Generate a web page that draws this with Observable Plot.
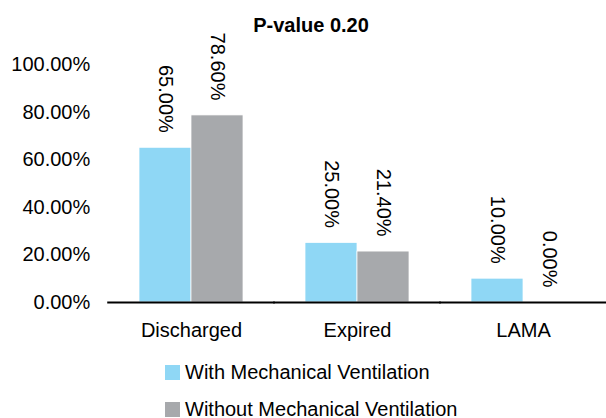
<!DOCTYPE html>
<html>
<head>
<meta charset="utf-8">
<script src="https://cdn.jsdelivr.net/npm/d3@7"></script>
<script src="https://cdn.jsdelivr.net/npm/@observablehq/plot@0.6"></script>
<style>
  html, body { margin: 0; padding: 0; background: #fff; }
  #wrap { position: relative; width: 606px; height: 418px; overflow: hidden; font-family: "Liberation Sans", Arial, sans-serif; color: #000; }
  #title { position: absolute; top: 15px; left: 311px; transform: translateX(-50%); font-size: 20px; line-height: 20px; font-weight: bold; white-space: nowrap; }
  #chart { position: absolute; left: 0; top: 0; }
  .leg { position: absolute; left: 165px; font-size: 20px; line-height: 16px; height: 16px; white-space: nowrap; display: flex; align-items: center; }
  .leg .sw { width: 15px; height: 15px; margin-right: 5px; flex: none; }
</style>
</head>
<body>
<div id="wrap">
  <div id="chart"></div>
  <div id="title">P-value 0.20</div>
  <div id="legend"></div>
</div>
<script>
const title = "P-value 0.20";
const categories = ["Discharged", "Expired", "LAMA"];
const series = ["With Mechanical Ventilation", "Without Mechanical Ventilation"];
const withMV = [0.65, 0.25, 0.10];
const withoutMV = [0.786, 0.214, 0.0];
const yTicks = [0, 0.2, 0.4, 0.6, 0.8, 1.0];
const colors = ["#8fd7f5", "#a7a9ac"];

const fmt = d3.format(".2%");
const data = categories.flatMap((c, i) => [
  {cat: c, s: series[0], v: withMV[i]},
  {cat: c, s: series[1], v: withoutMV[i]}
]);

// layout: fx step = plot width / 3, gap between groups = 0.376 * step
const W = 606, ML = 107, MR = 0;
const step = (W - ML - MR) / categories.length;
const halfGap = 0.376 * step / 2;

const plot = Plot.plot({
  width: W,
  height: 345,
  marginTop: 64,
  marginBottom: 43,
  marginLeft: ML,
  marginRight: MR,
  style: {fontFamily: "'Liberation Sans', Arial, sans-serif", fontSize: "20px", color: "#000", background: "transparent", overflow: "visible"},
  fx: {domain: categories, paddingInner: 0.376, paddingOuter: 0.188, label: null},
  x: {domain: series, padding: 0, axis: null},
  y: {domain: [0, 1], axis: null},
  color: {domain: series, range: colors},
  marks: [
    Plot.barY(data, {fx: "cat", x: "s", y: "v", fill: "s", stroke: "white", strokeWidth: 0.75}),
    Plot.ruleY([0], {stroke: "#000", strokeWidth: 2, insetLeft: -halfGap - 0.5, insetRight: -halfGap - 0.5}),
    Plot.text(data, {fx: "cat", x: "s", y: "v", text: d => fmt(d.v), rotate: 90, textAnchor: "end", dy: -15, fontSize: 20, fill: "#000"}),
    Plot.axisY({ticks: yTicks, tickFormat: fmt, tickSize: 0, tickPadding: 18 + halfGap, fontSize: 20, label: null, fill: "#000"}),
    Plot.axisFx({anchor: "bottom", tickSize: 0, tickPadding: 20, fontSize: 20, label: null, fill: "#000"})
  ]
});
document.getElementById("chart").appendChild(plot);
document.getElementById("title").textContent = title;

const legend = document.getElementById("legend");
const tops = [364, 401];
series.forEach((s, i) => {
  const row = document.createElement("div");
  row.className = "leg";
  row.style.top = tops[i] + "px";
  const sw = document.createElement("span");
  sw.className = "sw";
  sw.style.background = colors[i];
  const tx = document.createElement("span");
  tx.textContent = s;
  row.appendChild(sw);
  row.appendChild(tx);
  legend.appendChild(row);
});
</script>
</body>
</html>
